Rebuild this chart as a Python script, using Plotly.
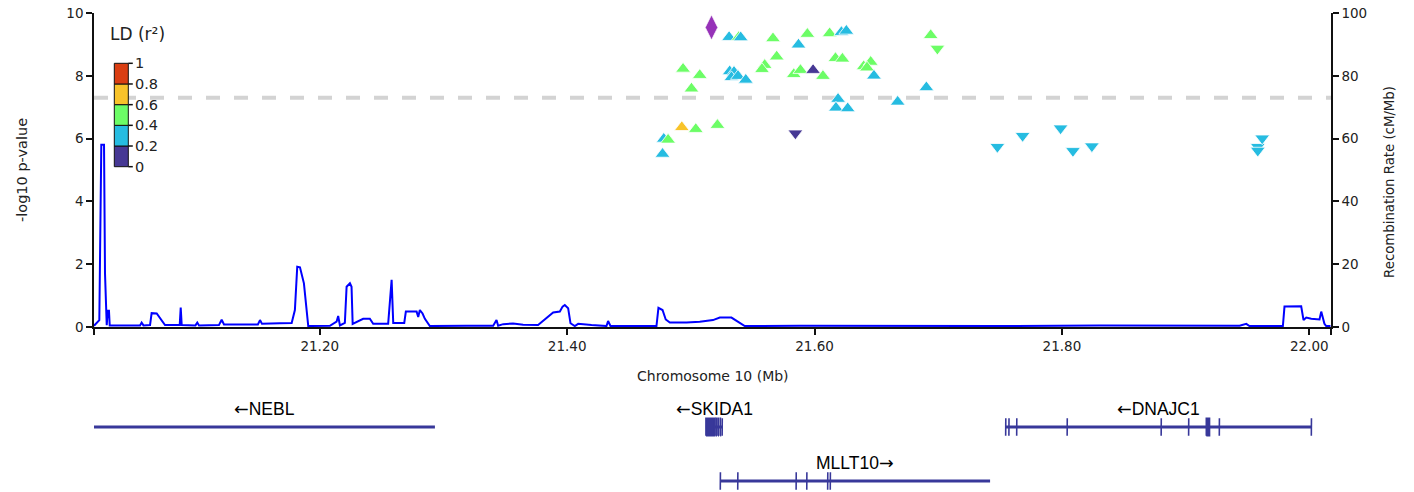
import plotly.graph_objects as go

# ---- LD (r^2) colour bins ----
ld_bin_edges = [0.0, 0.2, 0.4, 0.6, 0.8, 1.0]
ld_colors = ["#463894", "#26BCE1", "#6CFD66", "#F8C32A", "#DA3E12"]
lead_color = "#9632B8"

# ---- associated SNPs: position (Mb), -log10 p, r^2 with lead, effect direction ----
snp_pos = [21.5309, 21.5387, 21.5403, 21.5664, 21.5942, 21.6122, 21.6217, 21.6257,
           21.5870, 21.5694, 21.4937, 21.5072, 21.5005, 21.5314, 21.5349, 21.5328,
           21.5381, 21.5444, 21.5597, 21.5575, 21.5832, 21.5886, 21.5988, 21.6068,
           21.6169, 21.6225, 21.6397, 21.6454, 21.6424, 21.6480, 21.6904, 21.6939,
           21.6993, 21.6190, 21.6173, 21.6268, 21.6672, 21.4927, 21.5040, 21.5215,
           21.4781, 21.4816, 21.4771, 21.5845, 21.7478, 21.7682, 21.7989, 21.8089,
           21.8242, 21.9583, 21.9583, 21.9619]
snp_logp = [9.23, 9.23, 9.22, 9.19, 9.33, 9.35, 9.39, 9.43,
            8.99, 8.61, 8.22, 8.02, 7.59, 8.14, 8.12, 7.95,
            7.99, 7.87, 8.34, 8.21, 8.05, 8.18, 8.18, 7.99,
            8.56, 8.54, 8.30, 8.44, 8.26, 8.00, 7.63, 9.29,
            8.87, 7.26, 6.98, 6.96, 7.17, 6.36, 6.30, 6.43,
            5.99, 5.96, 5.51, 6.17, 5.74, 6.09, 6.33, 5.61,
            5.76, 5.74, 5.62, 6.01]
snp_r2 = [0.34, 0.52, 0.31, 0.47, 0.55, 0.51, 0.36, 0.33,
          0.29, 0.49, 0.45, 0.43, 0.42, 0.37, 0.35, 0.33,
          0.31, 0.28, 0.46, 0.44, 0.48, 0.50, 0.15, 0.44,
          0.53, 0.52, 0.47, 0.49, 0.46, 0.32, 0.27, 0.41,
          0.42, 0.26, 0.25, 0.24, 0.23, 0.66, 0.43, 0.41,
          0.22, 0.41, 0.40, 0.12, 0.24, 0.22, 0.25, 0.21,
          0.23, 0.22, 0.21, 0.23]
snp_dir = [1, 1, 1, 1, 1, 1, 1, 1,
           1, 1, 1, 1, 1, 1, 1, 1,
           1, 1, 1, 1, 1, 1, 1, 1,
           1, 1, 1, 1, 1, 1, 1, 1,
           -1, 1, 1, 1, 1, 1, 1, 1,
           1, 1, 1, -1, -1, -1, -1, -1,
           -1, -1, -1, -1]

# ---- lead SNP ----
lead_pos = [21.5167]
lead_logp = [9.54]

# ---- recombination rate (cM/Mb) ----
recomb_pos = [21.0175, 21.0218, 21.0234, 21.0256, 21.0264, 21.0278, 21.0286, 21.0296,
              21.0302, 21.0547, 21.0560, 21.0575, 21.0628, 21.0641, 21.0682, 21.0708,
              21.0749, 21.0868, 21.0876, 21.0884, 21.0995, 21.1010, 21.1024, 21.1185,
              21.1207, 21.1226, 21.1500, 21.1517, 21.1533, 21.1678, 21.1773, 21.1799,
              21.1818, 21.1840, 21.1872, 21.1907, 21.2082, 21.2136, 21.2149, 21.2163,
              21.2203, 21.2217, 21.2244, 21.2257, 21.2266, 21.2351, 21.2405, 21.2432,
              21.2553, 21.2581, 21.2594, 21.2683, 21.2696, 21.2783, 21.2796, 21.2809,
              21.2831, 21.2850, 21.2890, 21.3187, 21.3402, 21.3429, 21.3442, 21.3483,
              21.3563, 21.3644, 21.3765, 21.3887, 21.3941, 21.3963, 21.3981, 21.4008,
              21.4027, 21.4062, 21.4089, 21.4197, 21.4318, 21.4331, 21.4350, 21.4722,
              21.4738, 21.4771, 21.4797, 21.4830, 21.4965, 21.5072, 21.5179, 21.5234,
              21.5328, 21.5436, 21.5880, 21.7496, 21.8304, 21.9436, 21.9490, 21.9516,
              21.9786, 21.9799, 21.9934, 21.9953, 21.9975, 22.0015, 22.0082, 22.0096,
              22.0122, 22.0136, 22.0171]
recomb_rate = [0.4, 2.2, 58.0, 58.0, 17.0, 0.6, 5.2, 5.2,
               0.5, 0.5, 1.4, 0.5, 0.6, 4.4, 4.3, 2.8,
               0.6, 0.6, 6.2, 0.6, 0.5, 1.4, 0.5, 0.6,
               2.3, 0.8, 0.8, 2.2, 1.0, 1.2, 1.3, 5.4,
               19.2, 19.0, 13.9, 0.3, 0.4, 1.7, 3.5, 0.5,
               1.3, 12.8, 13.9, 12.8, 1.0, 2.6, 2.6, 1.0,
               1.0, 15.0, 1.3, 1.3, 4.9, 4.9, 3.2, 5.4,
               4.3, 2.6, 0.3, 0.4, 0.4, 2.2, 0.4, 0.9,
               1.1, 0.7, 0.6, 4.6, 4.9, 6.5, 7.0, 6.0,
               1.2, 0.3, 1.0, 0.6, 0.3, 1.9, 0.3, 0.3,
               6.1, 5.4, 2.4, 1.4, 1.4, 1.7, 2.2, 3.0,
               3.0, 0.3, 0.4, 0.3, 0.5, 0.4, 1.0, 0.3,
               0.3, 6.5, 6.6, 2.2, 3.0, 2.6, 2.4, 4.9,
               1.0, 0.3, 0.3]

# ---- genes ----
gene_names = ["NEBL", "SKIDA1", "MLLT10", "DNAJC1"]
gene_strand = ["-", "-", "+", "-"]
gene_start = [21.0170, 21.5122, 21.5238, 21.7545]
gene_end = [21.2931, 21.5254, 21.7419, 22.0017]
gene_row = [2, 2, 1, 2]
gene_exons = [
    [],
    [(21.5122, 21.5193), (21.5203, 21.5205), (21.5219, 21.5221),
     (21.5237, 21.5239), (21.5253, 21.5254)],
    [(21.5238, 21.5239), (21.5379, 21.5380), (21.5851, 21.5852),
     (21.5937, 21.5938), (21.6106, 21.6107), (21.6127, 21.6128)],
    [(21.7545, 21.7546), (21.7571, 21.7572), (21.7634, 21.7635),
     (21.8042, 21.8043), (21.8802, 21.8803), (21.9024, 21.9025),
     (21.9167, 21.9193), (21.9272, 21.9273), (22.0016, 22.0017)],
]

GWAS_THRESHOLD = 7.3
X_RANGE = [21.0175, 22.0175]

FONT = "Verdana, DejaVu Sans, sans-serif"
GENE_FONT = "Liberation Sans, Arial, sans-serif"
ARROW_FONT = "DejaVu Sans"
TEXT_COLOR = "#222222"
GENE_COLOR = "#38389A"


def ld_color(r2):
    for i in range(len(ld_colors)):
        if r2 <= ld_bin_edges[i + 1]:
            return ld_colors[i]
    return ld_colors[-1]


def strand_label(name, strand):
    arrow = "<span style='font-family:%s'>%s</span>" % (
        ARROW_FONT, "\u2190" if strand == "-" else "\u2192")
    return arrow + name if strand == "-" else name + arrow


fig = go.Figure()

# recombination rate on the right-hand axis
fig.add_trace(go.Scatter(
    x=recomb_pos, y=recomb_rate, mode="lines", yaxis="y2",
    line=dict(color="#0000FF", width=2), hoverinfo="skip", showlegend=False))

# SNPs, triangle direction follows effect sign
fig.add_trace(go.Scatter(
    x=snp_pos, y=snp_logp, mode="markers",
    marker=dict(
        symbol=["triangle-up" if d > 0 else "triangle-down" for d in snp_dir],
        size=13,
        color=[ld_color(r) for r in snp_r2],
        line=dict(color="white", width=0.8)),
    showlegend=False))

# lead SNP
fig.add_trace(go.Scatter(
    x=lead_pos, y=lead_logp, mode="markers",
    marker=dict(symbol="diamond-tall", size=18, color=lead_color,
                line=dict(color="white", width=0.8)),
    showlegend=False))

# gene track
ex_h = 0.16
for name, strand, s, e, row, exons in zip(gene_names, gene_strand, gene_start,
                                           gene_end, gene_row, gene_exons):
    fig.add_trace(go.Scatter(
        x=[s, e], y=[row, row], mode="lines", xaxis="x", yaxis="y3",
        line=dict(color=GENE_COLOR, width=3), hoverinfo="skip", showlegend=False))
    if exons:
        xs, ys = [], []
        for a, b in exons:
            xs += [a, b, b, a, a, None]
            ys += [row - ex_h, row - ex_h, row + ex_h, row + ex_h, row - ex_h, None]
        fig.add_trace(go.Scatter(
            x=xs, y=ys, mode="lines", fill="toself", fillcolor=GENE_COLOR,
            xaxis="x", yaxis="y3", line=dict(color=GENE_COLOR, width=1.6),
            hoverinfo="skip", showlegend=False))
    fig.add_annotation(
        x=(s + e) / 2, y=row, xref="x", yref="y3", text=strand_label(name, strand),
        showarrow=False, yshift=18,
        font=dict(family=GENE_FONT, size=17.5, color="#000000"))

# genome-wide significance line
fig.add_shape(type="line", xref="x domain", x0=0, x1=1, yref="y",
              y0=GWAS_THRESHOLD, y1=GWAS_THRESHOLD, layer="below",
              line=dict(color="#D3D3D3", width=4, dash="14px,14px"))

# ---- LD legend (drawn in the main panel's domain coordinates) ----
PLOT_L, PLOT_W, PLOT_B, PLOT_H = 94, 1237, 327, 314


def dx(px):
    return (px - PLOT_L) / PLOT_W


def dy(py):
    return (PLOT_B - py) / PLOT_H


bar_left, bar_right, bar_bottom, bar_top = 114.3, 128.3, 166.7, 63.3
band = (bar_bottom - bar_top) / len(ld_colors)
for i, c in enumerate(ld_colors):
    b = bar_bottom - i * band
    fig.add_shape(type="rect", xref="x domain", yref="y domain",
                  x0=dx(bar_left), x1=dx(bar_right), y0=dy(b), y1=dy(b - band),
                  fillcolor=c, line=dict(color="#111111", width=1))
for i, v in enumerate(ld_bin_edges):
    py = bar_bottom - i * band
    fig.add_shape(type="line", xref="x domain", yref="y domain",
                  x0=dx(bar_right), x1=dx(bar_right + 4.5), y0=dy(py), y1=dy(py),
                  line=dict(color="#111111", width=1.5))
    fig.add_annotation(xref="x domain", yref="y domain", x=dx(bar_right + 5),
                       y=dy(py), text=f"{v:g}", showarrow=False, xanchor="left",
                       yanchor="middle", font=dict(family=FONT, size=14.5, color=TEXT_COLOR))
fig.add_annotation(xref="x domain", yref="y domain", x=dx(137.5), y=dy(34),
                   text="LD (r\u00b2)", showarrow=False, xanchor="center",
                   yanchor="middle", font=dict(family=FONT, size=17, color=TEXT_COLOR))

# axis titles
fig.add_annotation(xref="x domain", yref="y domain", x=0.5, y=0, yshift=-49,
                   text="Chromosome 10 (Mb)", showarrow=False, yanchor="middle",
                   font=dict(family=FONT, size=14, color=TEXT_COLOR))
fig.add_annotation(xref="x domain", yref="y domain", x=0, xshift=-72, y=0.5,
                   text="-log10 p-value", textangle=-90, showarrow=False,
                   xanchor="center", yanchor="middle",
                   font=dict(family=FONT, size=14.5, color=TEXT_COLOR))
fig.add_annotation(xref="x domain", yref="y domain", x=1, xshift=59, y=0.462,
                   text="Recombination Rate (cM/Mb)", textangle=-90, showarrow=False,
                   xanchor="center", yanchor="middle",
                   font=dict(family=FONT, size=13.3, color=TEXT_COLOR))

x_ticks = [X_RANGE[0], 21.2, 21.4, 21.6, 21.8, 22.0, X_RANGE[1]]
x_labels = ["", "21.20", "21.40", "21.60", "21.80", "22.00", ""]

axis_common = dict(showgrid=False, zeroline=False, showline=True, linecolor="#111111",
                   linewidth=1.5, ticks="outside", ticklen=6, tickwidth=1.5,
                   tickcolor="#111111", automargin=False,
                   tickfont=dict(family=FONT, size=13.5, color=TEXT_COLOR))

fig.update_layout(
    width=1414, height=492,
    margin=dict(l=94, r=83, t=13, b=0, pad=0, autoexpand=False),
    paper_bgcolor="white", plot_bgcolor="white",
    showlegend=False,
    xaxis=dict(range=X_RANGE, tickvals=x_ticks, ticktext=x_labels, anchor="y",
               **axis_common),
    yaxis=dict(domain=[0.3445, 1.0], range=[0, 10], tickvals=[0, 2, 4, 6, 8, 10],
               anchor="x", **axis_common),
    yaxis2=dict(overlaying="y", side="right", range=[0, 100],
                tickvals=[0, 20, 40, 60, 80, 100], anchor="x", **axis_common),
    yaxis3=dict(domain=[0.0, 0.25], range=[0.7963, 3.0139], visible=False,
                anchor="x", fixedrange=True, automargin=False),
)

fig.write_html("out.html")
